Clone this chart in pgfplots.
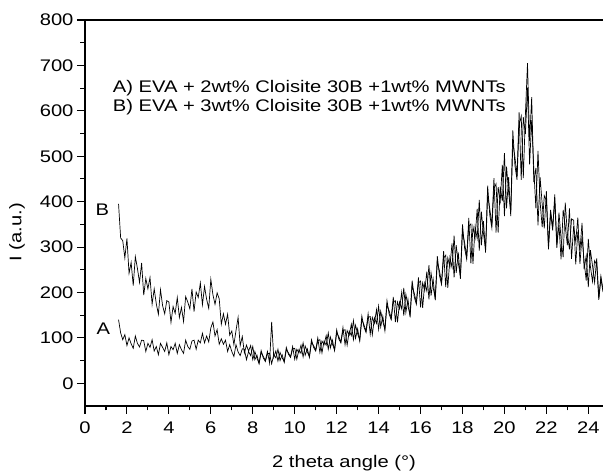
\documentclass[border=0pt]{standalone}
\usepackage{fontspec}
\setmainfont{Liberation Sans}[FakeStretch=1.2]
\usepackage{pgfplots}
\usepackage{pgfplotstable}
\pgfplotsset{compat=1.18}
\pgfplotstableread{
x A B
1.6 140 395
1.7 111 320
1.8 96 314
1.9 107 276
2.0 83 319
2.1 100 242
2.2 87 266
2.3 77 215
2.4 104 279
2.5 88 253
2.6 80 222
2.7 95 265
2.8 94 194
2.9 70 231
3.0 88 208
3.1 79 233
3.2 96 174
3.3 71 208
3.4 81 175
3.5 63 152
3.6 88 206
3.7 79 171
3.8 70 153
3.9 89 182
4.0 63 179
4.1 81 134
4.2 74 169
4.3 88 154
4.4 66 189
4.5 85 145
4.6 74 167
4.7 66 136
4.8 95 191
4.9 81 179
5.0 75 164
5.1 93 208
5.2 95 158
5.3 75 201
5.4 95 189
5.5 89 221
5.6 110 173
5.7 89 213
5.8 104 185
5.9 91 165
6.0 122 229
6.1 135 195
6.2 104 174
6.3 118 199
6.4 86 186
6.5 98 130
6.6 86 153
6.7 95 130
6.8 70 152
6.9 85 106
7.0 70 115
7.1 59 85
7.2 85 116
7.3 69 145
7.4 61 83
7.5 76 103
7.6 75 67
7.7 52 84
7.8 70 71
7.9 61 83
8.0 81 52
8.1 52 70
8.2 62 55
8.3 43 44
8.4 68 72
8.5 59 56
8.6 50 48
8.7 70 65
8.8 45 66
8.9 135 43
9.0 57 63
9.1 71 56
9.2 49 75
9.3 68 50
9.4 56 63
9.5 48 46
9.6 79 74
9.7 64 67
9.8 57 58
9.9 76 81
10.0 77 53
10.1 53 75
10.2 74 67
10.3 66 84
10.4 89 58
10.5 62 82
10.6 76 69
10.7 57 59
10.8 90 96
10.9 83 79
11.0 73 71
11.1 100 94
11.2 68 96
11.3 93 67
11.4 85 93
11.5 105 84
11.6 75 111
11.7 102 78
11.8 86 95
11.9 74 72
12.0 118 111
12.1 98 103
12.2 89 91
12.3 116 123
12.4 118 85
12.5 84 116
12.6 115 106
12.7 105 130
12.8 138 96
12.9 99 128
13.0 120 109
13.1 93 96
13.2 140 148
13.3 129 124
13.4 115 112
13.5 153 145
13.6 108 147
13.7 145 107
13.8 132 144
13.9 162 132
14.0 119 170
14.1 159 124
14.2 136 148
14.3 119 116
14.4 182 172
14.5 153 160
14.6 140 143
14.7 179 190
14.8 182 135
14.9 134 179
15.0 179 164
15.1 164 200
15.2 210 149
15.3 156 196
15.4 185 170
15.5 146 150
15.6 214 226
15.7 198 190
15.8 178 174
15.9 233 221
16.0 167 225
16.1 221 166
16.2 204 221
16.3 246 203
16.4 185 260
16.5 243 193
16.6 211 229
16.7 188 183
16.8 280 266
16.9 238 248
17.0 218 222
17.1 276 291
17.2 282 212
17.3 210 276
17.4 277 256
17.5 255 308
17.6 325 233
17.7 243 304
17.8 288 265
17.9 230 236
18.0 333 350
18.1 310 298
18.2 279 273
18.3 364 346
18.4 264 351
18.5 345 263
18.6 320 345
18.7 384 319
18.8 292 404
18.9 378 304
19.0 330 357
19.1 295 288
19.2 435 414
19.3 371 385
19.4 342 349
19.5 429 452
19.6 439 332
19.7 332 432
19.8 433 401
19.9 401 481
20.0 507 368
20.1 385 477
20.2 454 420
20.3 368 377
20.4 530 557
20.5 498 480
20.6 457 448
20.7 597 568
20.8 448 588
20.9 586 452
21.0 549 592
21.1 651 705
21.2 482 534
21.3 580 630
21.4 472 443
21.5 385 474
21.6 512 348
21.7 400 454
21.8 344 395
21.9 413 341
22.0 402 423
22.1 295 302
22.2 375 382
22.3 337 344
22.4 416 402
22.5 305 298
22.6 349 376
22.7 273 319
22.8 382 278
22.9 346 398
23.0 304 330
23.1 385 295
23.2 274 362
23.3 346 359
23.4 312 262
23.5 365 334
23.6 263 293
23.7 324 353
23.8 268 251
23.9 226 281
24.0 318 212
24.1 257 293
24.2 224 259
24.3 270 222
24.4 261 275
24.5 184 188
24.6 231 236
24.7 201 206
}\datatable
\begin{document}
\begin{tikzpicture}
\begin{axis}[
  scale only axis, width=518pt, height=386pt,
  xmin=0, xmax=24.7, ymin=-50, ymax=800,
  axis x line*=bottom, axis y line*=left,
  axis line style={-, line width=1.1pt},
  xtick={0,2,...,24}, ytick={0,100,...,800},
  minor x tick num=1, minor y tick num=1,
  tick align=outside, major tick length=8pt, minor tick length=4.5pt,
  every tick/.style={black, line width=1.1pt},
  /pgf/number format/assume math mode=true,
  tick label style={font=\fontsize{16.8}{19}\selectfont},
  xticklabel style={yshift=-4pt},
  label style={font=\fontsize{16.8}{19}\selectfont},
  xlabel={2 theta angle (°)}, ylabel={I (a.u.)},
  xlabel style={at={(rel axis cs:0.5,0)}, anchor=center, yshift=-57pt},
  ylabel style={at={(rel axis cs:0,0.45)}, anchor=center, rotate=0, yshift=68pt},
]
\addplot[black, line width=0.7pt] table[x=x, y=A] {\datatable};
\addplot[black, line width=0.7pt] table[x=x, y=B] {\datatable};
\draw[line width=1.1pt] (rel axis cs:0,1) -- (rel axis cs:1,1);
\node[anchor=west, inner sep=0pt, font=\fontsize{16.8}{19}\selectfont] at (axis cs:1.32,649) {A) EVA + 2wt\% Cloisite 30B +1wt\% MWNTs};
\node[anchor=west, inner sep=0pt, font=\fontsize{16.8}{19}\selectfont] at (axis cs:1.32,609) {B) EVA + 3wt\% Cloisite 30B +1wt\% MWNTs};
\node[font=\fontsize{16.8}{19}\selectfont] at (axis cs:0.83,382) {B};
\node[font=\fontsize{16.8}{19}\selectfont] at (axis cs:0.88,120) {A};
\end{axis}
\pgfresetboundingbox
\path ([shift={(-85pt,-69pt)}]current axis.south west) rectangle ([shift={(0pt,20pt)}]current axis.north east);
\end{tikzpicture}
\end{document}
